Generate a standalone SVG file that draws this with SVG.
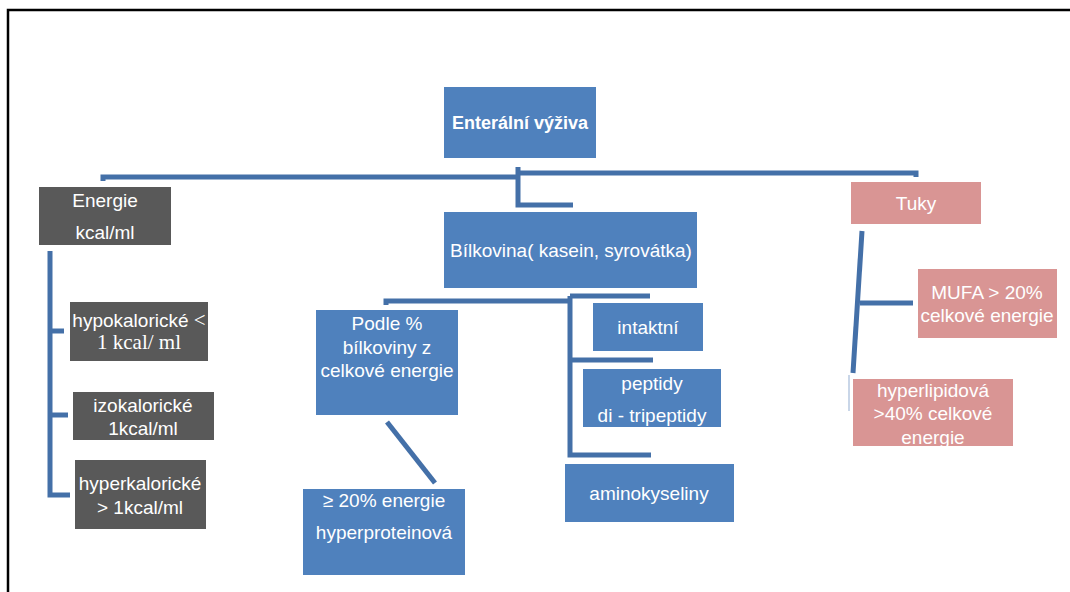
<svg xmlns="http://www.w3.org/2000/svg" width="1070" height="592" viewBox="0 0 1070 592">
<style>
.frame{fill:none;stroke:#000;stroke-width:2.5}
.c{fill:none;stroke:#4470A8;stroke-width:5;stroke-linejoin:miter}
.blue{fill:#4F81BD}
.gray{fill:#595959}
.pink{fill:#D99594}
text{font-family:"Liberation Sans","Noto Sans",Arial,sans-serif;font-size:19px;fill:#fff;text-anchor:middle;dominant-baseline:central}
.serif{font-family:"Liberation Serif","Times New Roman",serif;font-size:21px}
.b{font-weight:bold;font-size:18px}
</style>
<rect class="frame" x="8" y="10" width="1080" height="600"/>
<g id="connectors">
<path class="c" d="M103 181 V177 H518"/>
<path class="c" d="M518 167 V205 H573"/>
<path class="c" d="M518 173 H916 V177"/>
<path class="c" d="M50 251 V495 H70"/>
<path class="c" d="M50 331 H64"/>
<path class="c" d="M50 415 H68"/>
<path class="c" d="M386 305 V301 H570"/>
<path class="c" d="M570 296 H650"/>
<path class="c" d="M570 296 V455 H651"/>
<path class="c" d="M570 360 H653"/>
<path class="c" d="M387 422 L435 483"/>
<path class="c" d="M862 231 L853 373"/>
<path class="c" d="M860 303 H913"/>
<path d="M849 375 V411" stroke="#C9D6E8" stroke-width="2"/>
</g>
<g id="enteralni">
<rect class="blue" x="444" y="87" width="152" height="71"/>
<text class="b" x="520" y="123">Enterální výživa</text>
</g>
<g id="energie">
<rect class="gray" x="39" y="187" width="132" height="58"/>
<text x="105" y="200">Energie</text>
<text x="105" y="232">kcal/ml</text>
</g>
<g id="hypokaloricke">
<rect class="gray" x="70" y="302" width="138" height="59"/>
<text x="139" y="320">hypokalorické <tspan class="serif">&lt;</tspan></text>
<text class="serif" x="139" y="342">1 kcal/ ml</text>
</g>
<g id="izokaloricke">
<rect class="gray" x="73" y="392" width="141" height="48"/>
<text x="143" y="405">izokalorické</text>
<text x="143" y="428">1kcal/ml</text>
</g>
<g id="hyperkaloricke">
<rect class="gray" x="75" y="460" width="131" height="69"/>
<text x="140" y="483">hyperkalorické</text>
<text x="140" y="507">&gt; 1kcal/ml</text>
</g>
<g id="bilkovina">
<rect class="blue" x="444" y="212" width="253" height="76"/>
<text x="571" y="250">Bílkovina( kasein, syrovátka)</text>
</g>
<g id="podle">
<rect class="blue" x="316" y="310" width="142" height="105"/>
<text x="387" y="323">Podle %</text>
<text x="387" y="347">bílkoviny z</text>
<text x="387" y="370">celkové energie</text>
</g>
<g id="hyperproteinova">
<rect class="blue" x="303" y="489" width="162" height="86"/>
<text x="384" y="500">≥ 20% energie</text>
<text x="384" y="532">hyperproteinová</text>
</g>
<g id="intaktni">
<rect class="blue" x="593" y="303" width="110" height="48"/>
<text x="648" y="327">intaktní</text>
</g>
<g id="peptidy">
<rect class="blue" x="583" y="369" width="138" height="58"/>
<text x="652" y="383">peptidy</text>
<text x="652" y="415">di - tripeptidy</text>
</g>
<g id="aminokyseliny">
<rect class="blue" x="565" y="464" width="169" height="58"/>
<text x="649" y="493">aminokyseliny</text>
</g>
<g id="tuky">
<rect class="pink" x="851" y="182" width="130" height="42"/>
<text x="916" y="203">Tuky</text>
</g>
<g id="mufa">
<rect class="pink" x="918" y="269" width="139" height="69"/>
<text x="987" y="292">MUFA &gt; 20%</text>
<text x="987" y="315">celkové energie</text>
</g>
<g id="hyperlipidova">
<rect class="pink" x="853" y="379" width="160" height="67"/>
<text x="933" y="390">hyperlipidová</text>
<text x="933" y="413">&gt;40% celkové</text>
<text x="933" y="437">energie</text>
</g>
</svg>
